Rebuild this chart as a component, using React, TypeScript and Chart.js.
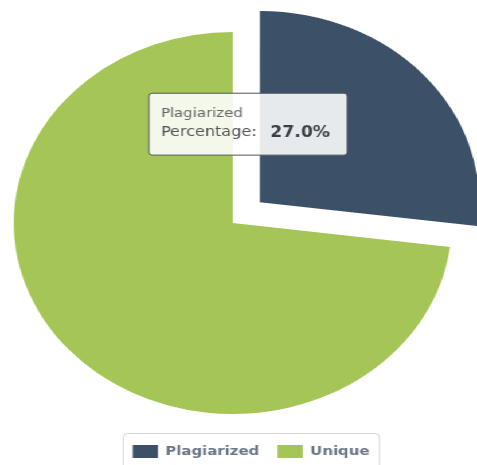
import React, { useEffect, useRef } from 'react';
import { Chart, registerables, Tooltip } from 'chart.js';

Chart.register(...registerables);

const categories = ['Plagiarized', 'Unique'];
const percentages = [27.0, 73.0];
const sliceColors = ['#3c5068', '#a5c656'];
const explodedOffsets = [126, 0];
const valueLabel = 'Percentage';

const FONT = "'DejaVu Sans', Verdana, sans-serif";
const W = 416;
const H = 465;
const SX = 477 / W;

const TT_TITLE = { family: FONT, size: 13, weight: 'normal' as const, lineHeight: 1.2 };
const TT_BODY = { family: FONT, size: 14, weight: 'normal' as const, lineHeight: 1.2 };
const TT_VALUE = { family: FONT, size: 15, weight: 'bold' as const };
const TT_PAD = { top: 12.5, bottom: 14, left: 10.5 };
const TITLE_MB = 3;
const VALUE_GAP = 12;
const VALUE_RIGHT = 15;

const fontStr = (f: { family: string; size: number; weight: string }) => `${f.weight} ${f.size}px ${f.family}`;

function measure(text: string, f: { family: string; size: number; weight: string }) {
  const c = document.createElement('canvas').getContext('2d')!;
  c.font = fontStr(f);
  return c.measureText(text).width;
}

(Tooltip.positioners as any).sliceEdge = function (items: any[]) {
  if (!items.length) return false;
  const p = items[0].element.tooltipPosition(true);
  return { x: p.x, y: p.y + 6 };
};

const legendShift = {
  id: 'legendShift',
  afterLayout(chart: any) {
    const lg = chart.legend;
    if (lg) {
      lg.left += 16;
      lg.right += 16;
    }
  },
};

const legendFrame = {
  id: 'legendFrame',
  afterDraw(chart: any) {
    const lg = chart.legend;
    const hb = lg && lg.legendHitBoxes;
    if (!hb || !hb.length) return;
    const l = Math.min(...hb.map((h: any) => h.left)) - 9;
    const r = Math.max(...hb.map((h: any) => h.left + h.width)) + 8;
    const t = Math.min(...hb.map((h: any) => h.top)) - 12;
    const b = Math.max(...hb.map((h: any) => h.top + h.height)) + 12;
    const ctx = chart.ctx;
    ctx.save();
    ctx.strokeStyle = '#d3d6da';
    ctx.lineWidth = 1;
    ctx.beginPath();
    (ctx as any).roundRect(Math.round(l) + 0.5, Math.round(t) + 0.5, r - l, b - t, 4);
    ctx.stroke();
    ctx.restore();
  },
};

const tooltipValue = {
  id: 'tooltipValue',
  afterTooltipDraw(chart: any, args: any) {
    const tt = args.tooltip;
    if (!tt.opacity) return;
    const i = tt.dataPoints && tt.dataPoints[0] ? tt.dataPoints[0].dataIndex : 0;
    const ctx = chart.ctx;
    const text = percentages[i].toFixed(1) + '%';
    ctx.save();
    ctx.font = fontStr(TT_BODY);
    const labW = ctx.measureText(valueLabel + ':').width;
    ctx.font = fontStr(TT_VALUE);
    ctx.fillStyle = '#3a3f47';
    ctx.textBaseline = 'middle';
    ctx.textAlign = 'left';
    const x = tt.x + TT_PAD.left + labW + VALUE_GAP;
    const y = tt.y + TT_PAD.top + TT_TITLE.size * 1.2 + TITLE_MB + (TT_BODY.size * 1.2) / 2;
    ctx.fillText(text, x, y);
    ctx.restore();
  },
};

export default function App() {
  const ref = useRef<HTMLCanvasElement>(null);

  useEffect(() => {
    if (!ref.current) return;
    const padRight = VALUE_GAP + measure(percentages[0].toFixed(1) + '%', TT_VALUE) + VALUE_RIGHT;
    const chart = new Chart(ref.current, {
      type: 'pie',
      data: {
        labels: categories,
        datasets: [
          {
            data: percentages,
            backgroundColor: sliceColors,
            borderWidth: 0,
            offset: explodedOffsets,
            hoverOffset: 0,
            radius: 191,
            clip: false,
          } as any,
        ],
      },
      options: {
        responsive: false,
        animation: false,
        events: [],
        layout: { padding: { top: 17, right: 10, bottom: -3, left: 0 } },
        plugins: {
          legend: {
            position: 'bottom',
            labels: {
              boxWidth: 22,
              boxHeight: 13,
              padding: 16,
              color: '#6a7586',
              font: { family: FONT, size: 13, weight: 'bold' },
            },
          },
          tooltip: {
            enabled: true,
            position: 'sliceEdge' as any,
            xAlign: 'right',
            yAlign: 'center',
            caretSize: 0,
            caretPadding: 19,
            backgroundColor: 'rgba(255,255,255,0.88)',
            borderColor: '#50555c',
            borderWidth: 1,
            cornerRadius: 3,
            displayColors: false,
            titleFont: TT_TITLE,
            titleColor: '#666',
            titleMarginBottom: TITLE_MB,
            bodyFont: TT_BODY,
            bodyColor: '#555',
            padding: { top: TT_PAD.top, bottom: TT_PAD.bottom, left: TT_PAD.left, right: padRight },
            callbacks: {
              title: (items: any[]) => (items.length ? items[0].label : ''),
              label: () => valueLabel + ':',
            },
          },
        },
      },
      plugins: [legendShift, legendFrame, tooltipValue],
    } as any);
    chart.tooltip!.setActiveElements([{ datasetIndex: 0, index: 0 }], { x: 0, y: 0 });
    chart.draw();
    return () => chart.destroy();
  }, []);

  return (
    <div
      style={{
        position: 'absolute',
        left: 0,
        top: 0,
        width: W,
        height: H,
        transform: `scaleX(${SX})`,
        transformOrigin: '0 0',
        background: '#fff',
      }}
    >
      <canvas ref={ref} width={W} height={H} style={{ display: 'block' }} />
    </div>
  );
}
